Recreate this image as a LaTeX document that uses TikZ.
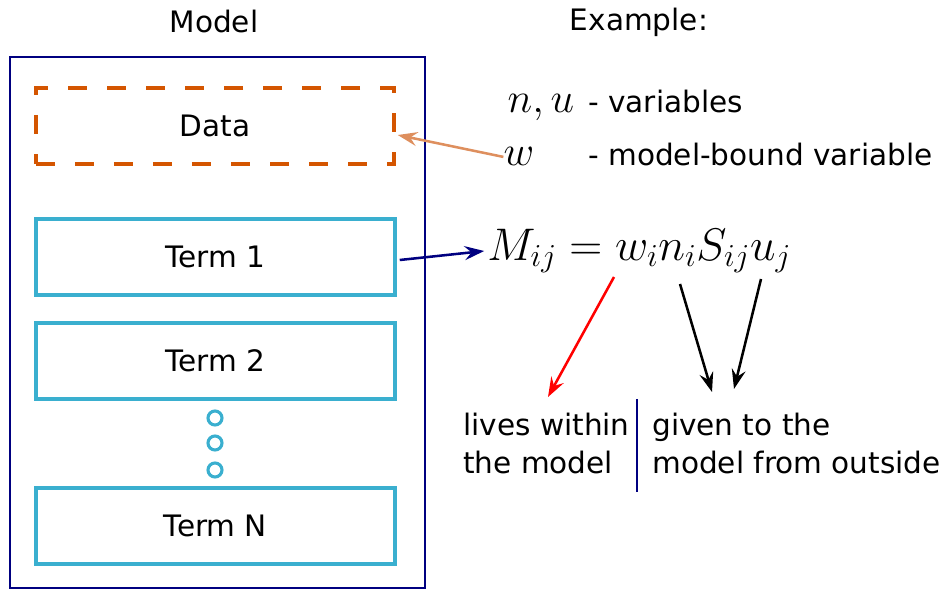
\documentclass[tikz,border=0pt]{standalone}
\usepackage{fix-cm}
\usepackage{fontspec}
\setmainfont{DejaVu Sans}
\usetikzlibrary{arrows.meta,positioning}
\definecolor{modelnavy}{RGB}{0,0,128}
\definecolor{dataorange}{RGB}{212,85,0}
\definecolor{termcyan}{RGB}{58,175,207}
\definecolor{linkorange}{RGB}{222,143,94}

\begin{document}
\begin{tikzpicture}[x=0.025cm,y=-0.025cm,
        every node/.style={font=\fontsize{21}{27}\selectfont},
        mathtext/.style={font=\fontsize{30}{36}\selectfont,inner sep=0pt},
        termbox/.style={draw=termcyan,line width=2.4pt,minimum width=8.975cm,minimum height=1.9cm},
        tip/.style={-{Stealth[length=14pt,width=10pt,inset=5pt]},line width=1.8pt}]
                \useasboundingbox (0,0) rectangle (947,589);
                
                % the model
                \draw[modelnavy,line width=1.8pt] (10,57) rectangle (425,588);
                \node (model) at (214,21) {Model};
                \node[draw=dataorange,line width=2.4pt,dash pattern=on 0.475cm off 0.5cm,
                      minimum width=8.95cm,minimum height=1.9cm] (data) at (215,126) {Data};
                
                \foreach \t/\y in {1/257, 2/361, N/526} {
                    \node[termbox] (term\t) at (215.5,\y) {Term \t};
                }
                
                \foreach \y [count=\i] in {418, 443, 470} {
                    \node[circle,draw=termcyan,line width=2.2pt,minimum size=0.35cm,inner sep=0pt] (dot\i) at (215,\y) {};
                }
                
                % the example
                \node (example) at (639,22) {Example:};
                \node[mathtext,anchor=base] (nu) at (541,113) {$n,u$};
                \node[anchor=base west,inner sep=0pt] (vars) at (588,113) {- variables};
                \node[mathtext,anchor=base] (w) at (519,166) {$w$};
                \node[anchor=base west,inner sep=0pt] (boundvar) at (588,166) {- model-bound variable};
                \node[mathtext,font=\fontsize{32.5}{38}\selectfont,anchor=west] (eq) at (487,251) {$M_{ij} = w_i n_i S_{ij} u_j$};
                
                \node[align=left,anchor=north west,inner sep=0pt] (inside) at (463,413) {lives within\\the model};
                \node[align=left,anchor=north west,inner sep=0pt] (outside) at (652,413) {given to the\\model from outside};
                
                \coordinate (wsub) at (614,277);
                \coordinate (nsub) at (680,284);
                \coordinate (usub) at (761,279);
                \coordinate (intip) at (548,397);
                \coordinate (ntip) at (712,392);
                \coordinate (utip) at (734,389);
                \coordinate (splittop) at (637,399);
                \coordinate (splitbot) at (637,492);
                
                % connectors
                \draw[tip,linkorange] (w.west) -- ([shift={(2,9)}]data.east);
                \draw[tip,modelnavy] ([shift={(3,3)}]term1.east) -- ([xshift=-2pt]eq.west);
                \draw[tip,red] (wsub) -- (intip);
                \draw[tip,black] (nsub) -- (ntip);
                \draw[tip,black] (usub) -- (utip);
                \draw[modelnavy,line width=1.5pt] (splittop) -- (splitbot);
            \end{tikzpicture}
\end{document}
